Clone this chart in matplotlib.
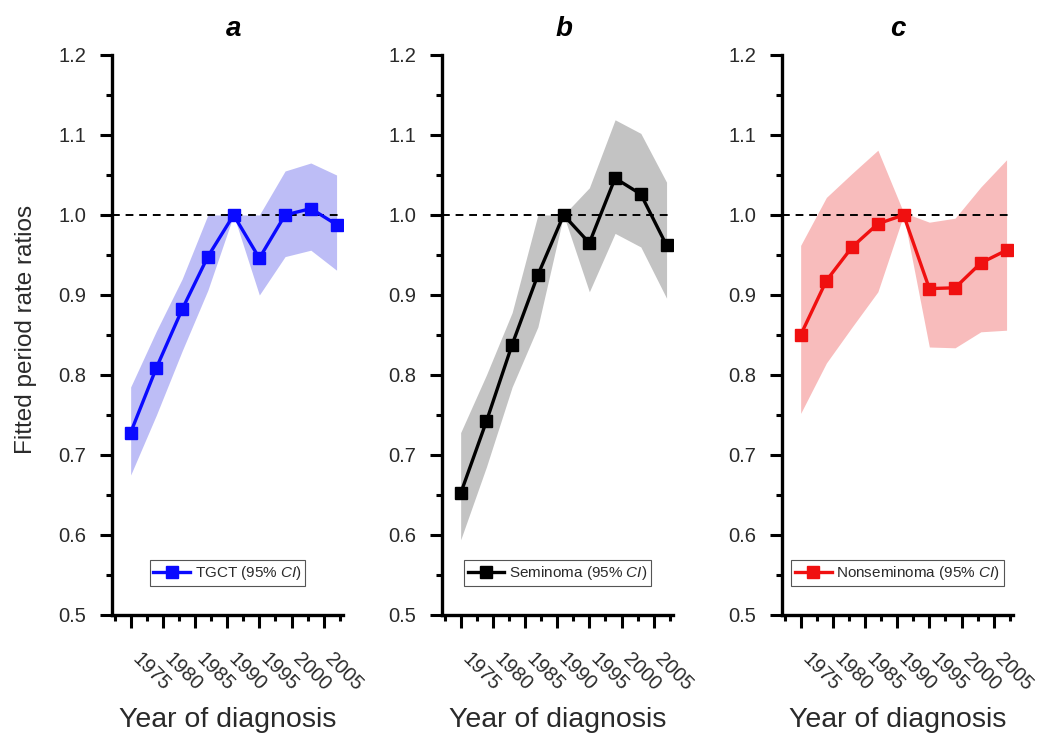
import numpy as np
import matplotlib
matplotlib.use("Agg")
import matplotlib.pyplot as plt
from matplotlib.ticker import MultipleLocator
from matplotlib.transforms import ScaledTranslation

plt.rcParams['font.family'] = ['Liberation Sans', 'DejaVu Sans']
plt.rcParams['mathtext.fontset'] = 'custom'
plt.rcParams['mathtext.it'] = 'Liberation Sans:italic'
plt.rcParams['mathtext.rm'] = 'Liberation Sans'

# Data
periods = [1975, 1979, 1983, 1987, 1991, 1995, 1999, 2003, 2007]
year_ticks = [1975, 1980, 1985, 1990, 1995, 2000, 2005]
year_labels = ['1975', '1980', '1985', '1990', '1995', '2000', '2005']
y_ticks = [0.5, 0.6, 0.7, 0.8, 0.9, 1.0, 1.1, 1.2]
y_labels = ['0.5', '0.6', '0.7', '0.8', '0.9', '1.0', '1.1', '1.2']

tgct = [0.728, 0.809, 0.882, 0.948, 1.0, 0.946, 1.0, 1.008, 0.988]
tgct_lo = [0.675, 0.750, 0.830, 0.906, 1.0, 0.900, 0.948, 0.956, 0.931]
tgct_hi = [0.785, 0.855, 0.920, 1.000, 1.0, 1.000, 1.055, 1.065, 1.050]

sem = [0.652, 0.742, 0.838, 0.925, 1.0, 0.965, 1.046, 1.026, 0.962]
sem_lo = [0.594, 0.685, 0.785, 0.860, 1.0, 0.904, 0.977, 0.960, 0.896]
sem_hi = [0.728, 0.800, 0.878, 1.000, 1.0, 1.034, 1.119, 1.102, 1.041]

nonsem = [0.850, 0.918, 0.960, 0.989, 1.0, 0.908, 0.909, 0.940, 0.956]
nonsem_lo = [0.752, 0.815, 0.860, 0.904, 1.0, 0.835, 0.834, 0.854, 0.856]
nonsem_hi = [0.962, 1.022, 1.052, 1.081, 1.003, 0.991, 0.996, 1.035, 1.069]

panels = [
    ('a', 'TGCT', tgct, tgct_lo, tgct_hi, '#0a0aff', '#bdbdf6'),
    ('b', 'Seminoma', sem, sem_lo, sem_hi, '#000000', '#c3c3c3'),
    ('c', 'Nonseminoma', nonsem, nonsem_lo, nonsem_hi, '#f01010', '#f8bcbc'),
]

W, H = 1050, 749
fig = plt.figure(figsize=(W / 100, H / 100), dpi=100)
lefts = [112, 442, 782]
title_x = [0.525, 0.53, 0.5]
ax_w = 231
top_px, bot_px = 55, 615

text_col = '#2a2a2a'
for i, (tag, name, vals, lo, hi, lc, fc) in enumerate(panels):
    ax = fig.add_axes([lefts[i] / W, 1 - bot_px / H, ax_w / W, (bot_px - top_px) / H])
    ax.fill_between(periods, lo, hi, color=fc, lw=0, zorder=1)
    ax.axhline(1.0, color='black', ls=(0, (4, 3)), lw=1.4, zorder=2)
    ax.plot(periods, vals, color=lc, lw=2.4, marker='s', ms=8.5, zorder=3,
            label=name + r' $\mathit{(95\%\ CI)}$')
    ax.set_xlim(1972.1, 2008.0)
    ax.set_ylim(0.5, 1.2)
    for s in ['top', 'right']:
        ax.spines[s].set_visible(False)
    for s in ['left', 'bottom']:
        ax.spines[s].set_linewidth(2.4)
    ax.set_yticks(y_ticks)
    ax.set_yticklabels(y_labels)
    ax.yaxis.set_minor_locator(MultipleLocator(0.05))
    ax.set_xticks(year_ticks)
    ax.set_xticklabels(year_labels, rotation=-45, ha='left', va='top',
                       rotation_mode='anchor')
    ax.xaxis.set_minor_locator(MultipleLocator(2.5))
    ax.tick_params(which='major', length=9, width=2.2, labelsize=14.5,
                   labelcolor=text_col, direction='out')
    ax.tick_params(which='minor', length=4.5, width=2.2, direction='out')
    ax.tick_params(axis='x', which='major', pad=16)
    ax.tick_params(axis='y', which='major', pad=9.5)
    off = ScaledTranslation(11 / 100, 0, fig.dpi_scale_trans)
    for lab in ax.get_xticklabels():
        lab.set_transform(lab.get_transform() + off)
    ax.set_title(tag, fontsize=20, fontweight='bold', fontstyle='italic', pad=14,
                 x=title_x[i])
    ax.set_xlabel('Year of diagnosis', fontsize=20.5, color=text_col)
    ax.xaxis.set_label_coords(0.5, -0.164)
    if i == 0:
        ax.set_ylabel('Fitted period rate ratios', fontsize=17.5, color=text_col)
        ax.yaxis.set_label_coords(-0.325, 0.51)
    leg = ax.legend(loc='center', bbox_to_anchor=(0.5, 0.075), fontsize=11,
                    frameon=True, fancybox=False, framealpha=1,
                    handlelength=2.4, borderpad=0.25, handletextpad=0.3,
                    labelcolor=text_col)
    leg.get_frame().set_edgecolor('#555555')
    leg.get_frame().set_linewidth(0.8)

fig.savefig('out.png', dpi=100)
